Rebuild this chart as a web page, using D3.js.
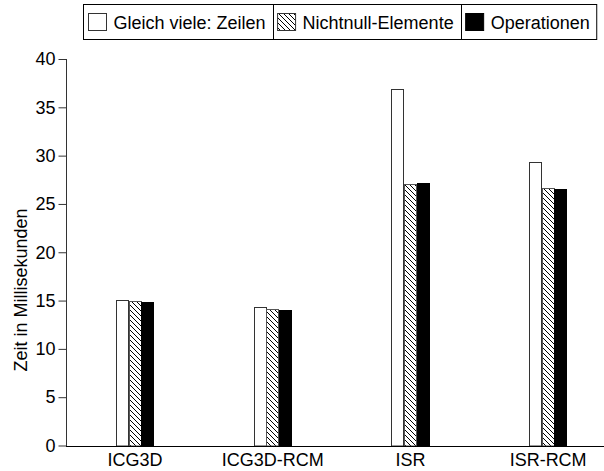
<!DOCTYPE html>
<html>
<head>
<meta charset="utf-8">
<script src="https://cdn.jsdelivr.net/npm/d3@7"></script>
<style>
  html, body { margin: 0; padding: 0; background: #fff; }
  svg { display: block; }
  text { font-family: "Liberation Sans", Arial, sans-serif; font-size: 18px; fill: #000; }
</style>
</head>
<body>
<svg id="chart" width="604" height="471"></svg>
<script>
// Laufzeiten je Matrix und Verteilungsstrategie
const categories = ["ICG3D", "ICG3D-RCM", "ISR", "ISR-RCM"];
const seriesNames = ["Gleich viele: Zeilen", "Nichtnull-Elemente", "Operationen"];
const gleichZeilen = [15.1, 14.3, 36.9, 29.3];
const nichtnull = [15.0, 14.1, 27.1, 26.6];
const operationen = [14.8, 14.0, 27.2, 26.5];
const yTicks = [0, 5, 10, 15, 20, 25, 30, 35, 40];
const yLabel = "Zeit in Millisekunden";

const seriesValues = [gleichZeilen, nichtnull, operationen];
const fills = ["#fff", "url(#hatch)", "#000"];
const strokes = ["#333", "#555", "#000"];

const svg = d3.select("#chart");

// Schraffur für die mittlere Reihe
const defs = svg.append("defs");
const pat = defs.append("pattern")
  .attr("id", "hatch")
  .attr("patternUnits", "userSpaceOnUse")
  .attr("width", 5).attr("height", 5);
pat.append("rect").attr("width", 5).attr("height", 5).attr("fill", "#fff");
pat.append("path")
  .attr("d", "M0,0 L5,5 M-1,4 L1,6 M4,-1 L6,1")
  .attr("stroke", "#000").attr("stroke-width", 1);

const plotLeft = 66, plotRight = 617, plotTop = 59, plotBottom = 445.5;

const x = d3.scaleBand().domain(categories).range([plotLeft, plotRight]).padding(0);
const groupWidth = 38;
const xs = d3.scaleBand().domain(d3.range(seriesNames.length)).range([0, groupWidth]).padding(0);
const y = d3.scaleLinear().domain([0, 40]).range([plotBottom, plotTop]);

// Balken
categories.forEach((cat, ci) => {
  const gx = x(cat) + x.bandwidth() / 2 - groupWidth / 2;
  seriesValues.forEach((vals, si) => {
    const x0 = Math.round(gx + xs(si)) + 0.5;
    const w = Math.round(xs.bandwidth()) - 1;
    const y0 = Math.round(y(vals[ci])) + 0.5;
    svg.append("rect")
      .attr("x", x0)
      .attr("y", y0)
      .attr("width", w)
      .attr("height", Math.round(y(0)) - y0)
      .attr("fill", fills[si])
      .attr("stroke", strokes[si])
      .attr("stroke-width", 1);
  });
});

// y-Achse
const yAxis = svg.append("g")
  .attr("transform", `translate(${plotLeft + 0.5},0)`)
  .call(d3.axisLeft(y).tickValues(yTicks).tickSize(8).tickPadding(3).tickFormat(d3.format("d")));
yAxis.select(".domain").attr("stroke", "#333").attr("d", `M0,${plotTop} V${Math.round(plotBottom) + 0.5}`);
yAxis.selectAll(".tick line").attr("stroke", "#333");
yAxis.selectAll(".tick text").style("font-size", "18px").style("font-family", "Liberation Sans, Arial, sans-serif").attr("fill", "#000");

// x-Achse
const xAxis = svg.append("g")
  .attr("transform", `translate(0,${Math.round(plotBottom) + 0.5})`)
  .call(d3.axisBottom(x).tickSize(0).tickPadding(7));
xAxis.select(".domain").attr("stroke", "#000").attr("d", `M${plotLeft},0 H604`);
xAxis.selectAll(".tick text").style("font-size", "18px").style("font-family", "Liberation Sans, Arial, sans-serif").attr("fill", "#000");

// Achsentitel
svg.append("text")
  .attr("transform", "translate(27,290) rotate(-90)")
  .attr("text-anchor", "middle")
  .text(yLabel);

// Legende
const legTop = 4.5, legH = 35, legLeft = 83.5;
const legend = svg.append("g");
let cx = legLeft;
const cells = [];
seriesNames.forEach((name, i) => {
  const t = legend.append("text")
    .attr("x", cx + 30)
    .attr("y", legTop + 24)
    .text(name);
  const tw = t.node().getComputedTextLength();
  legend.append("rect")
    .attr("x", cx + 5)
    .attr("y", legTop + 9)
    .attr("width", 18).attr("height", 17)
    .attr("fill", fills[i])
    .attr("stroke", i === 2 ? "#000" : "#333");
  const w = 30 + tw + 7;
  cells.push([cx, w]);
  cx += w;
});
legend.insert("rect", ":first-child")
  .attr("x", legLeft).attr("y", legTop)
  .attr("width", cx - legLeft).attr("height", legH)
  .attr("fill", "#fff").attr("stroke", "#000");
cells.slice(1).forEach(([cxx]) => {
  legend.append("line")
    .attr("x1", Math.round(cxx) + 0.5).attr("x2", Math.round(cxx) + 0.5)
    .attr("y1", legTop).attr("y2", legTop + legH)
    .attr("stroke", "#000");
});
</script>
</body>
</html>
